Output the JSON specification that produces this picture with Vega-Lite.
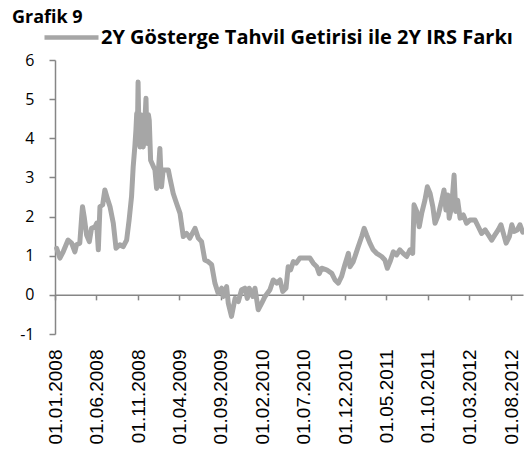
{
  "$schema": "https://vega.github.io/schema/vega-lite/v6.json",
  "width": 468,
  "height": 274,
  "autosize": "none",
  "padding": {"left": 55, "top": 60, "right": 1, "bottom": 115},
  "background": "white",
  "config": {"view": {"stroke": null}},
  "title": {"text": "Grafik 9", "anchor": "start", "frame": "group", "dx": -43, "offset": 0, "dy": 33, "font": "Open Sans", "fontSize": 18, "fontWeight": "bold", "color": "black", "baseline": "alphabetic"},
  "data": {"values": [
    {"d":"2008-01-07","v":1.19},{"d":"2008-01-19","v":0.94},{"d":"2008-01-31","v":1.10},{"d":"2008-02-18","v":1.40},
    {"d":"2008-03-02","v":1.32},{"d":"2008-03-14","v":1.10},{"d":"2008-03-20","v":1.28},{"d":"2008-04-01","v":1.32},
    {"d":"2008-04-08","v":2.00},{"d":"2008-04-11","v":2.25},{"d":"2008-04-17","v":2.00},{"d":"2008-04-26","v":1.53},
    {"d":"2008-05-06","v":1.36},{"d":"2008-05-14","v":1.70},{"d":"2008-05-27","v":1.74},{"d":"2008-06-02","v":1.83},
    {"d":"2008-06-08","v":1.15},{"d":"2008-06-14","v":2.25},{"d":"2008-06-24","v":2.30},{"d":"2008-07-02","v":2.68},
    {"d":"2008-07-11","v":2.47},{"d":"2008-07-21","v":2.25},{"d":"2008-08-02","v":1.83},{"d":"2008-08-12","v":1.19},
    {"d":"2008-08-26","v":1.28},{"d":"2008-09-07","v":1.23},{"d":"2008-09-20","v":1.40},{"d":"2008-09-29","v":1.91},
    {"d":"2008-10-08","v":2.51},{"d":"2008-10-14","v":3.27},{"d":"2008-10-20","v":3.78},{"d":"2008-10-24","v":4.20},
    {"d":"2008-10-27","v":4.63},{"d":"2008-10-29","v":3.90},
    {"d":"2008-11-01","v":5.44},{"d":"2008-11-04","v":4.20},{"d":"2008-11-08","v":3.78},{"d":"2008-11-11","v":4.60},
    {"d":"2008-11-14","v":4.46},{"d":"2008-11-17","v":3.95},{"d":"2008-11-20","v":3.78},{"d":"2008-11-25","v":4.30},
    {"d":"2008-11-30","v":5.02},{"d":"2008-12-03","v":4.10},{"d":"2008-12-06","v":3.87},{"d":"2008-12-09","v":4.60},
    {"d":"2008-12-12","v":4.46},{"d":"2008-12-17","v":3.44},
    {"d":"2009-01-02","v":3.19},{"d":"2009-01-08","v":2.72},{"d":"2009-01-14","v":3.10},{"d":"2009-01-20","v":3.74},
    {"d":"2009-01-26","v":2.76},{"d":"2009-02-01","v":3.19},{"d":"2009-02-20","v":3.19},{"d":"2009-02-26","v":2.98},
    {"d":"2009-03-10","v":2.59},{"d":"2009-03-22","v":2.34},{"d":"2009-04-04","v":2.08},{"d":"2009-04-16","v":1.49},
    {"d":"2009-04-28","v":1.57},{"d":"2009-05-10","v":1.45},{"d":"2009-05-29","v":1.70},{"d":"2009-06-10","v":1.45},
    {"d":"2009-06-22","v":1.36},{"d":"2009-07-04","v":0.89},{"d":"2009-07-16","v":0.85},{"d":"2009-07-29","v":0.77},
    {"d":"2009-08-10","v":0.30},{"d":"2009-08-22","v":0.04},{"d":"2009-09-04","v":0.17},{"d":"2009-09-10","v":-0.04},
    {"d":"2009-09-22","v":0.21},{"d":"2009-09-28","v":-0.21},{"d":"2009-10-10","v":-0.55},{"d":"2009-10-23","v":-0.09},
    {"d":"2009-11-04","v":-0.17},{"d":"2009-11-16","v":0.13},{"d":"2009-11-28","v":0.17},{"d":"2009-12-07","v":-0.09},
    {"d":"2009-12-14","v":0.17},{"d":"2009-12-27","v":-0.04},{"d":"2010-01-04","v":0.17},{"d":"2010-01-16","v":-0.38},
    {"d":"2010-01-29","v":-0.21},{"d":"2010-02-10","v":-0.04},{"d":"2010-02-28","v":0.13},{"d":"2010-03-12","v":0.38},
    {"d":"2010-03-25","v":0.30},{"d":"2010-04-06","v":0.38},{"d":"2010-04-16","v":0.09},{"d":"2010-04-28","v":0.17},
    {"d":"2010-05-06","v":0.72},{"d":"2010-05-15","v":0.64},{"d":"2010-05-25","v":0.85},{"d":"2010-06-04","v":0.81},
    {"d":"2010-06-18","v":0.94},{"d":"2010-07-07","v":0.94},{"d":"2010-07-25","v":0.94},{"d":"2010-08-06","v":0.81},
    {"d":"2010-08-19","v":0.72},{"d":"2010-08-28","v":0.54},{"d":"2010-09-06","v":0.68},{"d":"2010-09-24","v":0.64},
    {"d":"2010-10-13","v":0.55},{"d":"2010-10-25","v":0.38},{"d":"2010-11-06","v":0.30},{"d":"2010-11-18","v":0.47},
    {"d":"2010-11-30","v":0.77},{"d":"2010-12-13","v":1.06},{"d":"2010-12-19","v":0.72},{"d":"2010-12-31","v":0.85},
    {"d":"2011-01-10","v":1.06},{"d":"2011-01-18","v":1.23},{"d":"2011-01-31","v":1.49},{"d":"2011-02-09","v":1.70},
    {"d":"2011-02-18","v":1.53},{"d":"2011-03-02","v":1.32},{"d":"2011-03-14","v":1.15},{"d":"2011-03-27","v":1.06},
    {"d":"2011-04-14","v":0.98},{"d":"2011-04-26","v":0.89},{"d":"2011-05-05","v":0.68},{"d":"2011-05-15","v":0.85},
    {"d":"2011-05-27","v":1.10},{"d":"2011-06-08","v":1.02},{"d":"2011-06-20","v":1.15},{"d":"2011-07-02","v":1.06},
    {"d":"2011-07-15","v":0.98},{"d":"2011-07-27","v":1.15},{"d":"2011-08-06","v":1.06},{"d":"2011-08-11","v":2.30},
    {"d":"2011-08-21","v":2.13},{"d":"2011-08-30","v":1.74},{"d":"2011-09-08","v":2.08},{"d":"2011-09-20","v":2.42},
    {"d":"2011-09-29","v":2.76},{"d":"2011-10-09","v":2.59},{"d":"2011-10-19","v":2.25},{"d":"2011-10-27","v":1.83},
    {"d":"2011-11-08","v":2.04},{"d":"2011-11-21","v":2.42},{"d":"2011-11-29","v":2.68},{"d":"2011-12-06","v":2.17},
    {"d":"2011-12-13","v":2.55},{"d":"2011-12-18","v":1.96},{"d":"2011-12-27","v":2.25},{"d":"2012-01-05","v":3.06},
    {"d":"2012-01-11","v":2.13},{"d":"2012-01-18","v":2.42},{"d":"2012-01-27","v":1.96},{"d":"2012-02-08","v":2.04},
    {"d":"2012-02-20","v":1.83},{"d":"2012-03-03","v":1.91},{"d":"2012-03-22","v":1.91},{"d":"2012-04-03","v":1.74},
    {"d":"2012-04-15","v":1.57},{"d":"2012-04-28","v":1.66},{"d":"2012-05-10","v":1.53},{"d":"2012-05-22","v":1.40},
    {"d":"2012-06-03","v":1.53},{"d":"2012-06-15","v":1.66},{"d":"2012-06-25","v":1.79},{"d":"2012-07-04","v":1.57},
    {"d":"2012-07-14","v":1.32},{"d":"2012-07-26","v":1.49},{"d":"2012-08-04","v":1.79},{"d":"2012-08-12","v":1.62},
    {"d":"2012-08-24","v":1.66},{"d":"2012-09-03","v":1.79},{"d":"2012-09-13","v":1.60}
  ]},
  "layer": [
    {
      "mark": {"type": "line", "strokeWidth": 5, "strokeJoin": "round", "strokeCap": "round"},
      "encoding": {
        "x": {"field": "d", "type": "temporal",
          "scale": {"type": "utc", "domain": [{"year": 2008, "month": 1, "date": 1, "utc": true}, {"year": 2012, "month": 9, "date": 14, "utc": true}]},
          "axis": {"orient": "top", "offset": -234.86, "labels": false, "tickSize": -5, "tickColor": "#868686", "tickWidth": 1.5,
            "domainColor": "#868686", "domainWidth": 1.5, "grid": false, "title": null,
            "values": [
              {"year": 2008, "month": 1, "date": 1, "utc": true}, {"year": 2008, "month": 6, "date": 1, "utc": true},
              {"year": 2008, "month": 11, "date": 1, "utc": true}, {"year": 2009, "month": 4, "date": 1, "utc": true},
              {"year": 2009, "month": 9, "date": 1, "utc": true}, {"year": 2010, "month": 2, "date": 1, "utc": true},
              {"year": 2010, "month": 7, "date": 1, "utc": true}, {"year": 2010, "month": 12, "date": 1, "utc": true},
              {"year": 2011, "month": 5, "date": 1, "utc": true}, {"year": 2011, "month": 10, "date": 1, "utc": true},
              {"year": 2012, "month": 3, "date": 1, "utc": true}, {"year": 2012, "month": 8, "date": 1, "utc": true}
            ]}},
        "y": {"field": "v", "type": "quantitative",
          "scale": {"domain": [-1, 6], "nice": false, "zero": false},
          "axis": {"values": [-1, 0, 1, 2, 3, 4, 5, 6], "grid": false, "title": null, "labelOverlap": false, "labelBound": false, "labelFlush": false,
            "domainColor": "#868686", "domainWidth": 1.5, "tickColor": "#868686", "tickWidth": 1.5, "tickSize": 6,
            "labelFont": "Open Sans", "labelFontSize": 16, "labelColor": "black", "labelPadding": 15,
            "labelExpr": "datum.value + ''"}},
        "color": {"datum": "2Y Gösterge Tahvil Getirisi ile 2Y IRS Farkı", "type": "nominal",
          "scale": {"range": ["#A6A6A6"]},
          "legend": {"orient": "none", "legendX": -13, "legendY": -52, "title": null, "padding": 0,
            "symbolType": "stroke", "symbolSize": 2916, "symbolStrokeWidth": 4.5,
            "labelFont": "Open Sans", "labelFontSize": 20, "labelFontWeight": "bold", "labelColor": "black",
            "labelLimit": 1000, "labelOffset": 0}}
      }
    },
    {
      "mark": {"type": "point", "opacity": 0},
      "encoding": {
        "x": {"field": "d", "type": "temporal",
          "axis": {"orient": "bottom", "domain": false, "ticks": false, "grid": false, "title": null,
            "labelAngle": -90, "labelAlign": "right", "labelBaseline": "middle", "labelPadding": 15,
            "labelFont": "Liberation Sans", "labelFontSize": 19, "labelColor": "black",
            "labelOverlap": false, "labelFlush": false,
            "labelExpr": "utcFormat(datum.value, '%d.%m.%Y')",
            "values": [
              {"year": 2008, "month": 1, "date": 1, "utc": true}, {"year": 2008, "month": 6, "date": 1, "utc": true},
              {"year": 2008, "month": 11, "date": 1, "utc": true}, {"year": 2009, "month": 4, "date": 1, "utc": true},
              {"year": 2009, "month": 9, "date": 1, "utc": true}, {"year": 2010, "month": 2, "date": 1, "utc": true},
              {"year": 2010, "month": 7, "date": 1, "utc": true}, {"year": 2010, "month": 12, "date": 1, "utc": true},
              {"year": 2011, "month": 5, "date": 1, "utc": true}, {"year": 2011, "month": 10, "date": 1, "utc": true},
              {"year": 2012, "month": 3, "date": 1, "utc": true}, {"year": 2012, "month": 8, "date": 1, "utc": true}
            ]}}
      }
    }
  ]
}
